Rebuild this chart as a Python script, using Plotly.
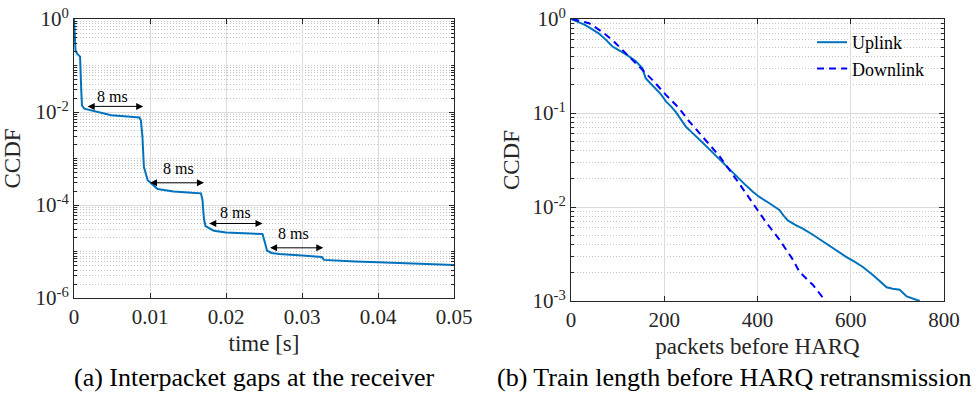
import math
import plotly.graph_objects as go

# ---------------- data ----------------
# (a) Interpacket gaps at the receiver
gap_time = [0, 0.0001, 0.0002, 0.0004, 0.0008, 0.00095, 0.00105, 0.00135, 0.0027, 0.0049,
            0.0070, 0.0086, 0.0088, 0.0090, 0.0092, 0.0097, 0.0110, 0.0131, 0.0150, 0.0167,
            0.0169, 0.0171, 0.0173, 0.0184, 0.0200, 0.0230, 0.0248, 0.0251, 0.0254, 0.0260,
            0.0270, 0.0300, 0.0326, 0.0329, 0.0340, 0.0370, 0.0400, 0.0450, 0.0500]
gap_ccdf = [1.0, 0.55, 0.21, 0.18, 0.155, 0.03, 0.0138, 0.0118, 0.0103, 0.0085,
            0.0080, 0.0076, 0.0066, 0.0030, 0.00065, 0.00034, 0.00022, 0.000196, 0.000185, 0.000178,
            0.00013, 0.00005, 0.000035, 0.000028, 0.0000255, 0.0000243, 0.0000237, 0.000016, 0.0000105, 0.0000093,
            0.0000088, 0.0000082, 0.0000076, 0.0000066, 0.0000064, 0.0000061, 0.0000059, 0.0000055, 0.0000051]

# 8 ms arrows: start x, end x, y level ; label positions
arrow_x0 = [0.0016, 0.0098, 0.0176, 0.0256]
arrow_x1 = [0.0091, 0.0171, 0.0248, 0.0328]
arrow_y = [0.0132, 0.00030, 0.000040, 0.000012]
label_x = [0.0051, 0.0138, 0.0213, 0.0289]
label_y = [0.022, 0.00060, 0.000068, 0.000024]
label_text = ["8 ms", "8 ms", "8 ms", "8 ms"]

# (b) Train length before HARQ retransmission
up_n = [0, 15, 31, 45, 60, 75, 89, 104, 118, 139, 153, 160, 170, 182, 193, 204, 215, 225, 236, 247,
        258, 268, 283, 297, 311, 325, 343, 361, 375, 390, 404, 419, 433, 447, 456, 465, 480, 497, 518, 540,
        565, 590, 608, 626, 650, 677, 690, 705, 720, 735, 748]
up_ccdf = [1.0, 0.93, 0.86, 0.78, 0.70, 0.60, 0.51, 0.46, 0.42, 0.355, 0.30, 0.235, 0.21, 0.182, 0.158,
           0.132, 0.117, 0.102, 0.086, 0.071, 0.063, 0.056, 0.048, 0.041, 0.035, 0.030, 0.024, 0.0195,
           0.0170, 0.0145, 0.0128, 0.0115, 0.0104, 0.0093, 0.0081, 0.0072, 0.0065, 0.0059, 0.0051, 0.0043,
           0.0036, 0.00295, 0.00262, 0.0023, 0.00185, 0.0014, 0.00135, 0.00132, 0.00112, 0.00106, 0.0010]

down_n = [3, 20, 39, 67, 90, 110, 144, 175, 204, 232, 254, 283, 318, 358, 390, 419, 447, 476, 490, 519, 546]
down_ccdf = [1.0, 0.96, 0.90, 0.73, 0.59, 0.47, 0.32, 0.224, 0.155, 0.112, 0.081, 0.056, 0.035, 0.0186,
             0.011, 0.0068, 0.0045, 0.00275, 0.00204, 0.00148, 0.0010]

series_names = ["Uplink", "Downlink"]

left_xticks = [0, 0.01, 0.02, 0.03, 0.04, 0.05]
left_xticktext = ["0", "0.01", "0.02", "0.03", "0.04", "0.05"]
left_yticks = [1e-6, 1e-4, 1e-2, 1e0]
left_yticktext = ["10<sup>-6</sup>", "10<sup>-4</sup>", "10<sup>-2</sup>", "10<sup>0</sup>"]
right_xticks = [0, 200, 400, 600, 800]
right_yticks = [1e-3, 1e-2, 1e-1, 1e0]
right_yticktext = ["10<sup>-3</sup>", "10<sup>-2</sup>", "10<sup>-1</sup>", "10<sup>0</sup>"]

captions = ["(a) Interpacket gaps at the receiver", "(b) Train length before HARQ retransmission"]

# ---------------- styling ----------------
W, H = 979, 401
FONT = "Liberation Serif"
AX = "#262626"
GRID = "#DCDCDC"
MINORGRID = "#C4C4C4"
BLUE = "#0072BD"


def px_x(p):
    return p / W


def px_y(p):
    return 1 - p / H


left_minor = [k * 10.0 ** e for e in range(-6, 0) for k in range(1, 10)]
right_minor = [k * 10.0 ** e for e in range(-3, 0) for k in range(2, 10)]

fig = go.Figure()

fig.add_trace(go.Scatter(x=gap_time, y=gap_ccdf, mode="lines", line=dict(color=BLUE, width=2),
                         showlegend=False, xaxis="x", yaxis="y"))
fig.add_trace(go.Scatter(x=up_n, y=up_ccdf, mode="lines", name=series_names[0],
                         line=dict(color=BLUE, width=2), xaxis="x2", yaxis="y2"))
fig.add_trace(go.Scatter(x=down_n, y=down_ccdf, mode="lines", name=series_names[1],
                         line=dict(color="#0000FF", width=2, dash="7px,5px"), xaxis="x2", yaxis="y2"))

common_axis = dict(showline=True, linecolor=AX, linewidth=1, mirror="allticks", ticks="inside",
                   tickcolor=AX, ticklen=5, tickfont=dict(family=FONT, size=21, color=AX),
                   gridcolor=GRID, gridwidth=1, zeroline=False, automargin=False,
                   title_font=dict(family=FONT, size=23, color=AX))

minor_style = dict(ticks="inside", ticklen=3, tickcolor=AX, showgrid=True,
                   gridcolor=MINORGRID, griddash="1px,2px", gridwidth=1)

fig.update_layout(
    template="none",
    width=W, height=H, margin=dict(l=0, r=0, t=0, b=0, autoexpand=False),
    paper_bgcolor="white", plot_bgcolor="white",
    font=dict(family=FONT, color=AX),
    xaxis=dict(common_axis, domain=[px_x(74), px_x(454)], range=[0, 0.05], anchor="y",
               tickvals=left_xticks, ticktext=left_xticktext, showgrid=True,
               title=dict(text="time [s]", standoff=6)),
    yaxis=dict(common_axis, domain=[px_y(298), px_y(19)], type="log", range=[-6, 0], anchor="x",
               tickvals=left_yticks, ticktext=left_yticktext, showgrid=True,
               title=dict(text="CCDF", standoff=9),
               minor=dict(minor_style, tickvals=left_minor)),
    xaxis2=dict(common_axis, domain=[px_x(571), px_x(944)], range=[0, 800], anchor="y2",
                tickvals=right_xticks, showgrid=True,
                title=dict(text="packets before HARQ", standoff=6)),
    yaxis2=dict(common_axis, domain=[px_y(301), px_y(19)], type="log", range=[-3, 0], anchor="x2",
                tickvals=right_yticks, ticktext=right_yticktext, showgrid=True,
                title=dict(text="CCDF", standoff=6),
                minor=dict(minor_style, tickvals=right_minor)),
    legend=dict(x=px_x(812), y=px_y(24), xanchor="left", yanchor="top",
                bgcolor="rgba(0,0,0,0)", borderwidth=0,
                font=dict(family=FONT, size=18, color="#000000"), tracegroupgap=0),
)

annotations = []
for x0, x1, yv in zip(arrow_x0, arrow_x1, arrow_y):
    annotations.append(dict(x=x1, y=math.log10(yv), ax=x0, ay=math.log10(yv), xref="x", yref="y",
                            axref="x", ayref="y", text="", showarrow=True, arrowhead=2,
                            arrowside="end+start", arrowsize=1.4, arrowwidth=1, arrowcolor="#000000",
                            standoff=0, startstandoff=0))
for lx, ly, lt in zip(label_x, label_y, label_text):
    annotations.append(dict(x=lx, y=math.log10(ly), xref="x", yref="y", text=lt, showarrow=False,
                            xanchor="center", yanchor="middle",
                            font=dict(family=FONT, size=16, color="#000000")))
annotations.append(dict(x=px_x(255), y=px_y(377), xref="paper", yref="paper", text=captions[0],
                        showarrow=False, xanchor="center", yanchor="middle",
                        font=dict(family=FONT, size=26, color="#000000")))
annotations.append(dict(x=px_x(734), y=px_y(377), xref="paper", yref="paper", text=captions[1],
                        showarrow=False, xanchor="center", yanchor="middle",
                        font=dict(family=FONT, size=26, color="#000000")))
fig.update_layout(annotations=annotations)

fig.write_html("out.html")
